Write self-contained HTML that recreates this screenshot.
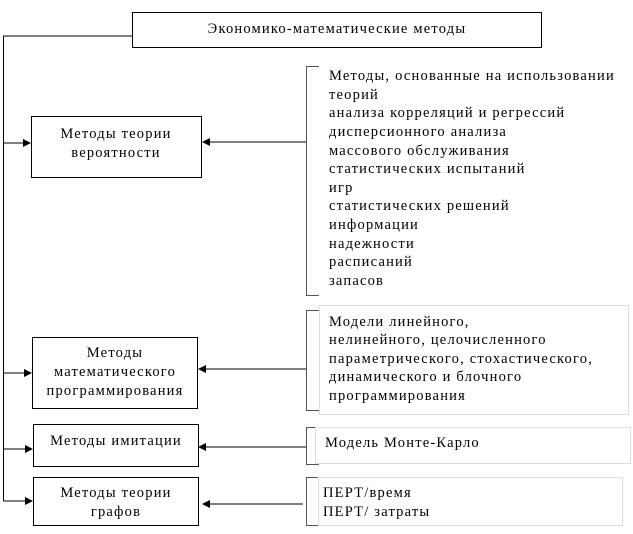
<!DOCTYPE html>
<html><head><meta charset="utf-8"><style>
html,body{margin:0;padding:0;background:#fff;width:633px;height:534px;overflow:hidden}
text{font-family:"Liberation Serif",serif;font-size:14.5px;letter-spacing:1.2px;fill:#000}
</style></head><body>
<svg width="633" height="534" viewBox="0 0 633 534" xmlns="http://www.w3.org/2000/svg">
<defs><marker id="a" markerWidth="8" markerHeight="8" refX="7" refY="4" orient="auto" markerUnits="userSpaceOnUse"><path d="M0,0 L8,4 L0,8 z" fill="#000"/></marker></defs>
<g fill="none" stroke="#000" stroke-width="1">
<rect x="132.5" y="12.5" width="409" height="35"/>
<polyline points="132,36 3.5,36 3.5,501"/>
<line x1="3.5" y1="143" x2="30" y2="143" marker-end="url(#a)"/>
<line x1="3.5" y1="373" x2="31" y2="373" marker-end="url(#a)"/>
<line x1="3.5" y1="449" x2="32" y2="449" marker-end="url(#a)"/>
<line x1="3.5" y1="501" x2="32" y2="501" marker-end="url(#a)"/>
<rect x="31.5" y="116.5" width="170" height="61"/>
<rect x="32.5" y="337.5" width="165" height="71"/>
<rect x="33.5" y="424.5" width="165" height="42"/>
<rect x="33.5" y="477.5" width="165" height="48"/>
<line x1="306" y1="142" x2="203" y2="142" marker-end="url(#a)"/>
<line x1="306" y1="369" x2="199" y2="369" marker-end="url(#a)"/>
<line x1="306" y1="447" x2="199" y2="447" marker-end="url(#a)"/>
<line x1="303" y1="504" x2="203" y2="504" marker-end="url(#a)"/>
</g>
<g fill="none" stroke="#555" stroke-width="1">
<polyline points="319,66.5 306.5,66.5 306.5,295.5 319,295.5"/>
<polyline points="319,310.5 306.5,310.5 306.5,410.5 319,410.5"/>
<polyline points="319,427.5 306.5,427.5 306.5,464.5 319,464.5"/>
<polyline points="319,477.5 306.5,477.5 306.5,525.5 319,525.5"/>
</g>
<g fill="none" stroke="#ddd" stroke-width="1">
<rect x="319.5" y="305.5" width="309" height="109"/>
<rect x="315.5" y="427.5" width="315" height="36"/>
<rect x="318.5" y="477.5" width="304" height="48"/>
</g>
<text x="337" y="33" text-anchor="middle">Экономико-математические методы</text>
<text x="116" y="138" text-anchor="middle">Методы теории</text>
<text x="116" y="157" text-anchor="middle">вероятности</text>
<text x="115" y="357" text-anchor="middle">Методы</text>
<text x="115" y="376" text-anchor="middle">математического</text>
<text x="115" y="395" text-anchor="middle">программирования</text>
<text x="116" y="445" text-anchor="middle">Методы имитации</text>
<text x="116" y="497" text-anchor="middle">Методы теории</text>
<text x="116" y="516" text-anchor="middle">графов</text>
<text x="329" y="80">Методы, основанные на использовании</text>
<text x="329" y="99">теорий</text>
<text x="329" y="117">анализа корреляций и регрессий</text>
<text x="329" y="136">дисперсионного анализа</text>
<text x="329" y="155">массового обслуживания</text>
<text x="329" y="173">статистических испытаний</text>
<text x="329" y="192">игр</text>
<text x="329" y="210">статистических решений</text>
<text x="329" y="229">информации</text>
<text x="329" y="248">надежности</text>
<text x="329" y="266">расписаний</text>
<text x="329" y="285">запасов</text>
<text x="329" y="326">Модели линейного,</text>
<text x="329" y="344">нелинейного, целочисленного</text>
<text x="329" y="363">параметрического, стохастического,</text>
<text x="329" y="381">динамического и блочного</text>
<text x="329" y="400">программирования</text>
<text x="325" y="447">Модель Монте-Карло</text>
<text x="323" y="497">ПЕРТ/время</text>
<text x="323" y="516">ПЕРТ/ затраты</text>
</svg>
</body></html>
